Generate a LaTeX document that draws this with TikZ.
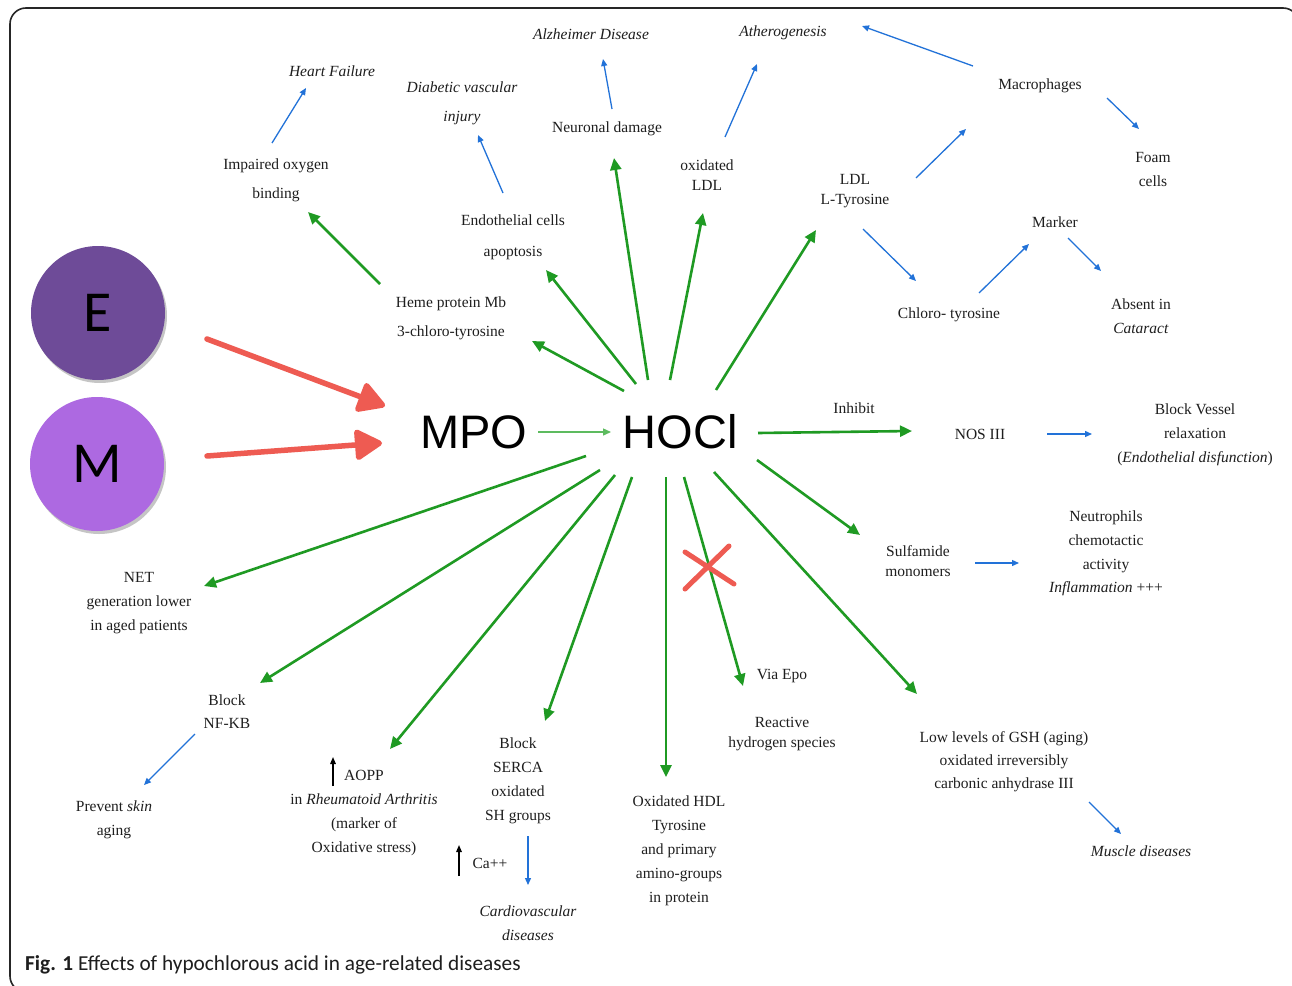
\documentclass[tikz,border=0pt]{standalone}
\usepackage{fontspec}
\setmainfont{Liberation Serif}
\newfontfamily\hfont{Liberation Sans}
\newfontfamily\cfont{Carlito}
\usetikzlibrary{arrows.meta,shadows}
\definecolor{grn}{HTML}{1F9A23}
\definecolor{lgrn}{HTML}{5DBB5F}
\definecolor{blu}{HTML}{2272D8}
\definecolor{redd}{HTML}{EE5B52}
\definecolor{epurple}{HTML}{6E4B98}
\definecolor{mpurple}{HTML}{AD69E1}
\definecolor{ink}{HTML}{1E1E1E}
\tikzset{
  txt/.style={font=\fontsize{15.5}{#1}\selectfont, align=center, inner sep=0pt, text=ink, yshift=-2pt},
  txt/.default=24,
  big/.style={font=\hfont\fontsize{47}{50}\selectfont, inner sep=0pt, text=black},
  circ/.style={circle, minimum size=134pt, inner sep=0pt, font=\cfont\fontsize{58}{60}\selectfont,
     drop shadow={opacity=0.45, shadow xshift=2pt, shadow yshift=-3pt}},
  ga/.style={draw=grn, line width=2.6pt, -{Triangle[length=12pt,width=11pt]}},
  ba/.style={draw=blu, line width=1.3pt, -{Triangle[length=7pt,width=6pt]}},
  ka/.style={draw=black, line width=1.4pt, -{Triangle[length=7pt,width=5.5pt]}},
  ra/.style={draw=redd, line width=5.5pt, line cap=round, -{Triangle[length=30pt,width=33pt,round]}},
}
\begin{document}
\begin{tikzpicture}[x=1pt,y=-1pt]
\useasboundingbox (0,0) rectangle (1292,985);
\fill[white] (0,0) rectangle (1292,985);
\begin{scope}
\clip (0,0) rectangle (1292,985);
\draw[line width=1.6pt, black!85, rounded corners=16pt] (10,8) rectangle (1299,992);
\end{scope}

% circles
\node[circ, fill=epurple] (E) at (98,313) {E};
\node[circ, fill=mpurple] (M) at (97,464) {M};

% main nodes
\node[big] (mpo) at (474,432) {MPO};
\node[big] (hocl) at (680,432) {HOCl};

% text nodes
\node[txt] (hf) at (332,69) {\textit{Heart Failure}};
\node[txt=29] (iob) at (276,178.5) {Impaired oxygen\\binding};
\node[txt=29] (dvi) at (462,101.5) {\textit{Diabetic vascular}\\\textit{injury}};
\node[txt] (alz) at (591,32) {\textit{Alzheimer Disease}};
\node[txt] (ath) at (783,31) {\textit{Atherogenesis}};
\node[txt] (nd) at (607,127) {Neuronal damage};
\node[txt=20] (oldl) at (707,173) {oxidated\\LDL};
\node[txt] (mac) at (1040,84) {Macrophages};
\node[txt] (foam) at (1153,167) {Foam\\cells};
\node[txt=20] (ldl) at (855,189) {LDL\\L-Tyrosine};
\node[txt] (marker) at (1055,220) {Marker};
\node[txt=31] (endo) at (513,235.5) {Endothelial cells\\apoptosis};
\node[txt=29] (heme) at (451,316.5) {Heme protein Mb\\3-chloro-tyrosine};
\node[txt] (chloro) at (949,313) {Chloro- tyrosine};
\node[txt] (absent) at (1141,314) {Absent in\\\textit{Cataract}};
\node[txt] (inhibit) at (854,406) {Inhibit};
\node[txt] (nos) at (980,432) {NOS III};
\node[txt] (bvr) at (1195,433) {Block Vessel\\relaxation\\(\textit{Endothelial disfunction})};
\node[txt=23.7] (neu) at (1106,551.5) {Neutrophils\\chemotactic\\activity\\\textit{Inflammation} +++};
\node[txt=20] (sulf) at (918,559) {Sulfamide\\monomers};
\node[txt] (net) at (139,601) {NET\\generation lower\\in aged patients};
\node[txt=23] (nfkb) at (227,709.5) {Block\\NF-KB};
\node[txt] (skin) at (114,818) {Prevent \textit{skin}\\aging};
\node[txt] (aopp) at (364,811) {AOPP\\in \textit{Rheumatoid Arthritis}\\(marker of\\Oxidative stress)};
\node[txt] (serca) at (518,779) {Block\\SERCA\\oxidated\\SH groups};
\node[txt] (ca) at (490,861) {Ca++};
\node[txt] (cvd) at (528,921) {\textit{Cardiovascular}\\\textit{diseases}};
\node[txt] (hdl) at (679,849) {Oxidated HDL\\Tyrosine\\and primary\\amino-groups\\in protein};
\node[txt] (epo) at (782,674) {Via Epo};
\node[txt=20] (rhs) at (782,732) {Reactive\\hydrogen species};
\node[txt=23] (gsh) at (1004,760) {Low levels of GSH (aging)\\oxidated irreversibly\\carbonic anhydrase III};
\node[txt] (mus) at (1141,849) {\textit{Muscle diseases}};

\node[anchor=west, inner sep=0pt, text=ink, font=\cfont\fontsize{21.3}{22}\selectfont] (cap) at (25,965)
  {\textbf{Fig. 1} Effects of hypochlorous acid in age-related diseases};

% coordinates for arrow ends
\coordinate (g1a) at (380,284);  \coordinate (g1b) at (308,212);
\coordinate (g2a) at (624,391);  \coordinate (g2b) at (532,341);
\coordinate (g3a) at (636,384);  \coordinate (g3b) at (546,270);
\coordinate (g4a) at (648,380);  \coordinate (g4b) at (614,158);
\coordinate (g5a) at (670,380);  \coordinate (g5b) at (703,213);
\coordinate (g6a) at (716,390);  \coordinate (g6b) at (816,230);
\coordinate (g7a) at (758,433);  \coordinate (g7b) at (912,431);
\coordinate (g8a) at (757,460);  \coordinate (g8b) at (860,535);
\coordinate (g9a) at (586,456);  \coordinate (g9b) at (204,586);
\coordinate (g10a) at (600,470); \coordinate (g10b) at (260,683);
\coordinate (g11a) at (615,475); \coordinate (g11b) at (390,749);
\coordinate (g12a) at (632,477); \coordinate (g12b) at (545,721);
\coordinate (g13a) at (666,477); \coordinate (g13b) at (666,777);
\coordinate (g14a) at (684,477); \coordinate (g14b) at (743,686);
\coordinate (g15a) at (714,472); \coordinate (g15b) at (917,694);

\foreach \i in {1,...,15} \draw[ga] (g\i a) -- (g\i b);

% MPO -> HOCl
\coordinate (mh1) at (538,432); \coordinate (mh2) at (611,432);
\draw[draw=lgrn, line width=1.3pt, -{Triangle[length=8pt,width=7pt]}] (mh1) -- (mh2);

% blue arrows
\coordinate (b1a) at (272,143);  \coordinate (b1b) at (306,88);
\coordinate (b2a) at (503,193);  \coordinate (b2b) at (478,135);
\coordinate (b3a) at (612,109);  \coordinate (b3b) at (603,59);
\coordinate (b4a) at (725,137);  \coordinate (b4b) at (757,64);
\coordinate (b5a) at (973,66);   \coordinate (b5b) at (862,26);
\coordinate (b6a) at (1107,98);  \coordinate (b6b) at (1139,129);
\coordinate (b7a) at (916,178);  \coordinate (b7b) at (966,129);
\coordinate (b8a) at (863,229);  \coordinate (b8b) at (916,281);
\coordinate (b9a) at (979,293);  \coordinate (b9b) at (1029,244);
\coordinate (b10a) at (1068,238); \coordinate (b10b) at (1101,271);
\coordinate (b11a) at (1047,434); \coordinate (b11b) at (1092,434);
\coordinate (b12a) at (975,563);  \coordinate (b12b) at (1019,563);
\coordinate (b13a) at (195,734);  \coordinate (b13b) at (144,785);
\coordinate (b14a) at (1089,802); \coordinate (b14b) at (1121,834);
\coordinate (b15a) at (528,836);  \coordinate (b15b) at (528,885);
\foreach \i in {1,...,15} \draw[ba] (b\i a) -- (b\i b);

% black up arrows
\coordinate (k1a) at (333,786); \coordinate (k1b) at (333,757);
\coordinate (k2a) at (459,876); \coordinate (k2b) at (459,845);
\draw[ka] (k1a) -- (k1b);
\draw[ka] (k2a) -- (k2b);

% red arrows
\coordinate (r1a) at (207,339); \coordinate (r1b) at (385,406);
\coordinate (r2a) at (207,456); \coordinate (r2b) at (382,443);
\draw[ra] (r1a) -- (r1b);
\draw[ra] (r2a) -- (r2b);

% red cross
\coordinate (x1) at (685,552); \coordinate (x2) at (734,584);
\coordinate (x3) at (685,589); \coordinate (x4) at (729,546);
\draw[redd, line width=5pt, line cap=round] (x1) -- (x2);
\draw[redd, line width=5pt, line cap=round] (x3) -- (x4);
\end{tikzpicture}
\end{document}
